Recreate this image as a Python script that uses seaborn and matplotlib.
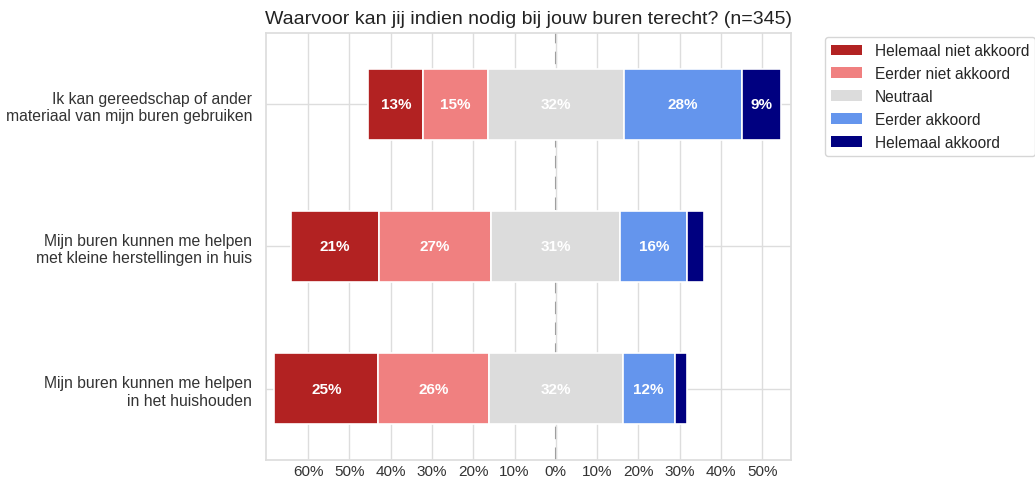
import numpy as np
import pandas as pd
import matplotlib
matplotlib.use("Agg")
import matplotlib.pyplot as plt
from matplotlib.patches import Patch
import seaborn as sns

title = "Waarvoor kan jij indien nodig bij jouw buren terecht? (n=345)"
questions = [
    "Ik kan gereedschap of ander\nmateriaal van mijn buren gebruiken",
    "Mijn buren kunnen me helpen\nmet kleine herstellingen in huis",
    "Mijn buren kunnen me helpen\nin het huishouden",
]
categories = ["Helemaal niet akkoord", "Eerder niet akkoord", "Neutraal",
              "Eerder akkoord", "Helemaal akkoord"]
helemaal_niet = [13.3, 21.2, 25.2]
eerder_niet = [15.7, 27.2, 26.7]
neutraal = [32.8, 31.3, 32.5]
eerder_akkoord = [28.6, 16.2, 12.5]
helemaal_akkoord = [9.6, 4.1, 3.1]
colors = ["#B22222", "#F08080", "#DCDCDC", "#6495ED", "#000080"]
xtick_values = [-60, -50, -40, -30, -20, -10, 0, 10, 20, 30, 40, 50]

sns.set_theme(style="whitegrid")
plt.rcParams["font.family"] = ["Liberation Sans", "DejaVu Sans"]

series = [helemaal_niet, eerder_niet, neutraal, eerder_akkoord, helemaal_akkoord]
vals = np.array(series)  # shape (5, n_questions)
start = -(vals[0] + vals[1] + vals[2] / 2.0)

fig = plt.figure(figsize=(10.35, 4.85), dpi=100)
ax = fig.add_axes([0.257, 0.0495, 0.507, 0.8805])

ax.axvline(0, color="#909090", linestyle=(0, (6, 4)), linewidth=1.5, zorder=0.5)

left = start.copy()
for k, (cat, col) in enumerate(zip(categories, colors)):
    df = pd.DataFrame({"question": questions, "value": vals[k]})
    sns.barplot(data=df, x="value", y="question", orient="h", color=col,
                left=left.copy(), width=0.5, edgecolor="white", linewidth=1.2,
                saturation=1, ax=ax, zorder=2)
    cont = ax.containers[-1]
    labels = [f"{int(v)}%" if v >= 5 else "" for v in vals[k]]
    ax.bar_label(cont, labels=labels, label_type="center", color="white",
                 fontweight="bold", fontsize=11)
    left = left + vals[k]

ax.set_xlim(-70.2, 56.9)
ax.set_ylim(2.5, -0.5)
ax.set_xticks(xtick_values)
ax.set_xticklabels([f"{abs(v)}%" for v in xtick_values])
ax.set_xlabel("")
ax.set_ylabel("")
ax.tick_params(axis="x", labelsize=11, colors="#333333", length=0, pad=3)
ax.tick_params(axis="y", labelsize=11.3, colors="#333333", length=0, pad=10)
ax.grid(True, color="#DDDDDD", linewidth=1)
ax.set_axisbelow(True)
for s in ax.spines.values():
    s.set_color("#DDDDDD")
ax.set_title(title, fontsize=14, color="#222222", pad=7)

handles = [Patch(facecolor=c, edgecolor="none", label=l) for c, l in zip(colors, categories)]
ax.legend(handles=handles, loc="upper left", bbox_to_anchor=(1.065, 0.99),
          fontsize=11.2, frameon=True, edgecolor="#CCCCCC", fancybox=True,
          borderaxespad=0)

fig.savefig("out.png", dpi=100)
